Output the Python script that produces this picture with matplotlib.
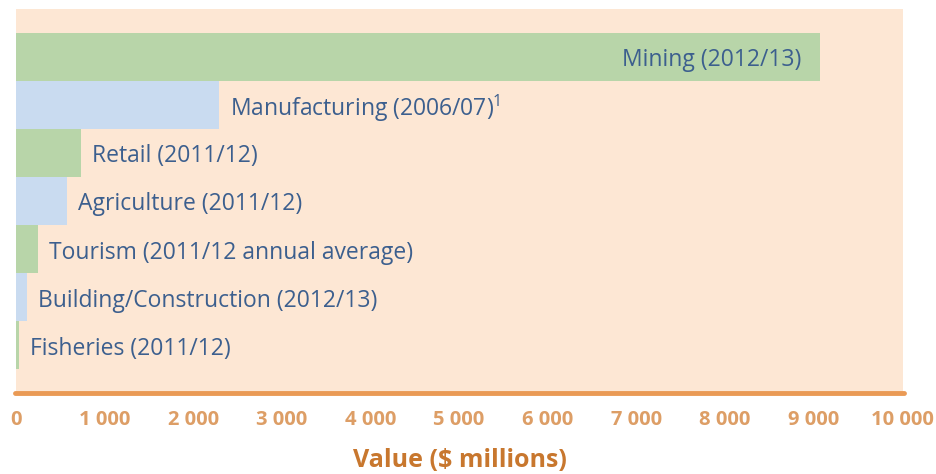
import matplotlib
matplotlib.use("Agg")
import matplotlib.pyplot as plt

categories = ["Mining (2012/13)", "Manufacturing (2006/07)$^{1}$", "Retail (2011/12)",
              "Agriculture (2011/12)", "Tourism (2011/12 annual average)",
              "Building/Construction (2012/13)", "Fisheries (2011/12)"]
values = [9070, 2290, 734, 576, 248, 124, 34]
tick_values = [0, 1000, 2000, 3000, 4000, 5000, 6000, 7000, 8000, 9000, 10000]
tick_labels = ["0", "1 000", "2 000", "3 000", "4 000", "5 000", "6 000",
               "7 000", "8 000", "9 000", "10 000"]

plt.rcParams['font.family'] = ['Open Sans', 'DejaVu Sans']
plt.rcParams['mathtext.fontset'] = 'custom'
plt.rcParams['mathtext.rm'] = 'Open Sans'
plt.rcParams['mathtext.it'] = 'Open Sans'

green = "#b8d5a9"
blue = "#c9dbf0"
bg = "#fde7d4"
text_col = "#3c5f8e"
tick_col = "#dd9e66"
label_col = "#c8772e"
axis_col = "#ea9a55"

fig = plt.figure(figsize=(9.37, 4.74), dpi=100)
ax = fig.add_axes([16/937, (474-393)/474, 887/937, 384/474])
ax.set_facecolor(bg)

n = len(values)
ys = list(range(n))
colors = [green if i % 2 == 0 else blue for i in range(n)]
ax.barh(ys, values, height=1.0, color=colors, linewidth=0)

fs = 16.5
for i, (c, v) in enumerate(zip(categories, values)):
    if i == 0:
        ax.annotate(c, xy=(v, i), xytext=(-13, -2.5), textcoords='offset points',
                    ha='right', va='center', fontsize=fs, color=text_col)
    else:
        ax.annotate(c, xy=(v, i), xytext=(8, -2.5), textcoords='offset points',
                    ha='left', va='center', fontsize=fs, color=text_col)

ax.set_xlim(0, 10010)
ax.set_ylim(n - 0.5 + 0.49, -0.5 - 0.49)
ax.set_yticks([])
ax.set_xticks(tick_values)
ax.set_xticklabels(tick_labels, fontsize=14.5, fontweight='bold', color=tick_col)
ax.tick_params(axis='x', length=0, pad=12)
for s in ['top', 'right', 'left', 'bottom']:
    ax.spines[s].set_visible(False)

ax.plot([-10, 10020], [n - 0.5 + 0.49] * 2, color=axis_col, lw=3.5,
        solid_capstyle='round', clip_on=False, transform=ax.transData)

ax.set_xlabel("Value ($ millions)", fontsize=18, fontweight='bold', color=label_col, labelpad=13)

fig.savefig("out.png", dpi=100, facecolor='white')
